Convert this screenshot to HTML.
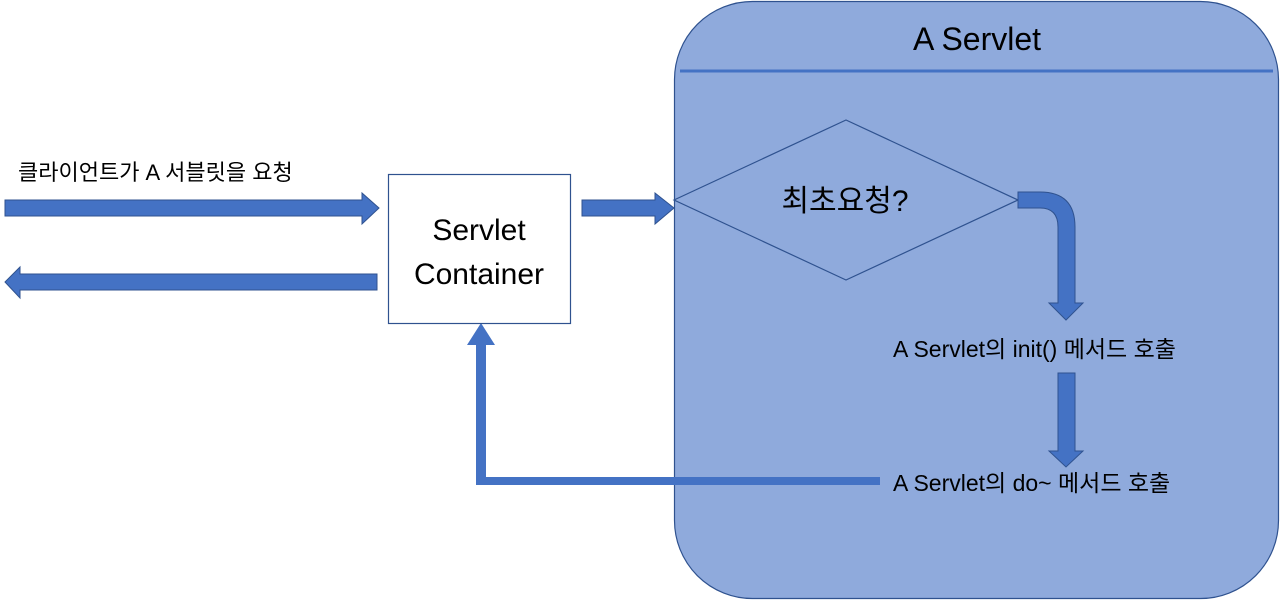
<!DOCTYPE html>
<html><head><meta charset="utf-8"><style>
html,body{margin:0;padding:0;background:#fff;}
svg{display:block;}
text{font-family:"Liberation Sans","Noto Sans CJK KR",sans-serif;fill:#000;}
</style></head><body>
<svg width="1280" height="601" viewBox="0 0 1280 601" xmlns="http://www.w3.org/2000/svg">
<rect x="674.5" y="1.5" width="604" height="597" rx="78" fill="#8faadc" stroke="#2f528f" stroke-width="1.2"/>
<line x1="680" y1="71" x2="1273" y2="71" stroke="#4472c4" stroke-width="3"/>
<text x="977" y="50" font-size="32" text-anchor="middle">A Servlet</text>
<polygon points="674,200 846,120 1018,200 846,280" fill="#8faadc" stroke="#2f528f" stroke-width="1.2"/>
<text x="845" y="211" font-size="30" text-anchor="middle">최초요청?</text>
<!-- curved arrow -->
<path d="M1018,192 L1040,192 Q1075,192 1075,227 L1075,303 L1083,303 L1066,320 L1049,303 L1058,303 L1058,227 Q1058,208 1040,208 L1018,208 Z" fill="#4472c4" stroke="#2f528f" stroke-width="1"/>
<text x="893" y="357" font-size="23">A Servlet의 init() 메서드 호출</text>
<path d="M1058,373 L1075,373 L1075,451 L1083,451 L1066,467 L1049,451 L1058,451 Z" fill="#4472c4" stroke="#2f528f" stroke-width="1"/>
<text x="893" y="491" font-size="23">A Servlet의 do~ 메서드 호출</text>
<!-- return line -->
<path d="M880,477 L880,485 L476,485 L476,345 L467,345 L481,323 L495,345 L486,345 L486,477 Z" fill="#4472c4"/>
<!-- container -->
<rect x="388.5" y="174.5" width="182" height="149" fill="#fff" stroke="#2f528f" stroke-width="1.2"/>
<text x="479" y="240" font-size="30" text-anchor="middle">Servlet</text>
<text x="479" y="284" font-size="30" text-anchor="middle">Container</text>
<text x="18" y="180" font-size="22">클라이언트가 A 서블릿을 요청</text>
<path d="M5,200 L362,200 L362,193 L379,208 L362,224 L362,216 L5,216 Z" fill="#4472c4" stroke="#2f528f" stroke-width="1"/>
<path d="M377,274 L20,274 L20,267 L5,282 L20,298 L20,290 L377,290 Z" fill="#4472c4" stroke="#2f528f" stroke-width="1"/>
<path d="M582,200 L655,200 L655,193 L674,208 L655,224 L655,216 L582,216 Z" fill="#4472c4" stroke="#2f528f" stroke-width="1"/>
</svg>
</body></html>
